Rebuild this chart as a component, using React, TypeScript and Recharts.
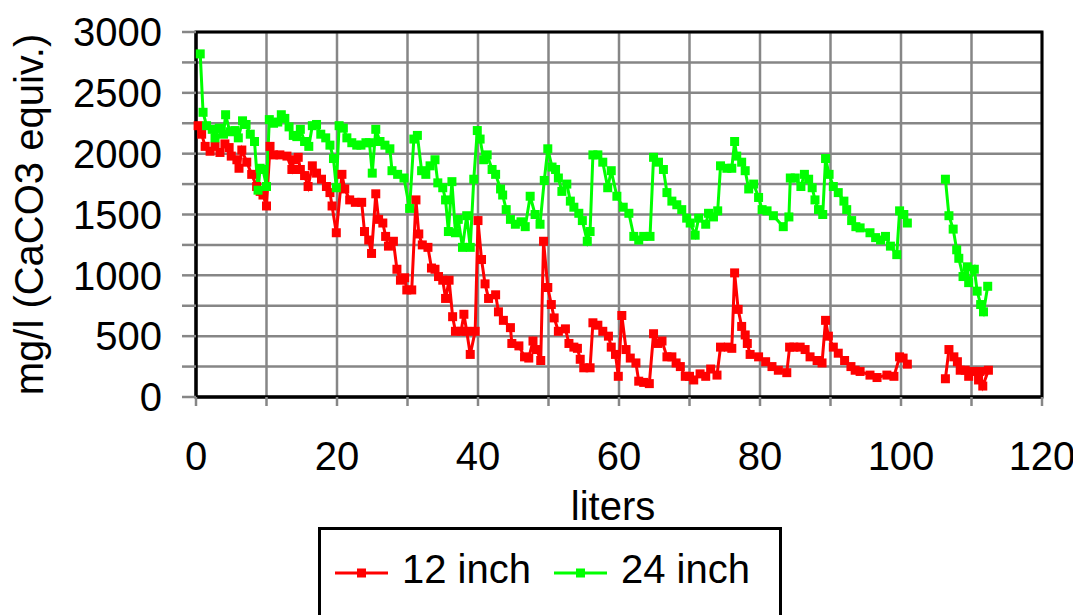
import React from "react";
import { CartesianGrid, Line, LineChart, ReferenceArea, XAxis, YAxis } from "recharts";

// 12 inch column: liters vs mg/l (null = no readings in the gap)
const liters12 = [
  0.3, 0.8, 1.3, 2.0, 2.7, 3.4, 4.1, 4.7, 5.0, 5.8,
  6.1, 6.5, 7.2, 7.9, 8.6, 9.1, 9.5, 10.0, 10.5, 11.0,
  11.9, 12.9, 13.6, 13.9, 14.5, 14.8, 15.4, 15.9, 16.5, 17.1,
  17.8, 18.5, 19.0, 19.3, 19.9, 20.7, 21.1, 21.8, 22.6, 23.5,
  23.9, 24.5, 24.9, 25.5, 25.9, 26.5, 26.9, 27.3, 28.0, 28.5,
  29.0, 29.6, 29.9, 30.6, 31.2, 31.6, 32.1, 32.9, 33.4, 33.9,
  34.4, 35.0, 35.4, 35.9, 36.4, 36.8, 37.6, 38.0, 38.4, 38.9,
  39.6, 40.0, 40.5, 41.0, 41.5, 42.5, 42.9, 43.6, 44.6, 44.8,
  45.8, 46.6, 47.2, 47.8, 48.3, 48.9, 49.3, 49.9, 50.4, 50.8,
  51.4, 52.4, 52.9, 53.6, 54.1, 54.5, 55.0, 55.9, 56.3, 57.0,
  57.7, 58.5, 58.9, 59.5, 59.9, 60.4, 61.0, 61.6, 62.4, 62.8,
  63.5, 64.3, 64.9, 65.5, 66.1, 66.8, 67.5, 68.1, 68.7, 69.4,
  70.0, 70.6, 71.5, 72.3, 73.0, 73.9, 74.4, 75.5, 76.0, 76.4,
  76.9, 77.4, 77.9, 78.2, 78.6, 79.8, 80.8, 81.7, 82.6, 83.8,
  84.2, 84.8, 85.7, 86.4, 87.1, 88.1, 88.8, 89.3, 89.7, 90.4,
  91.1, 92.0, 92.9, 93.5, 94.2, 95.6, 96.6, 98.0, 99.0, 99.8,
  100.3, 100.9, 103.5, 106.3, 106.8, 107.5, 108.0, 108.4, 109.1, 109.6,
  110.2, 111.0, 111.2, 111.6, 112.4,
];
const mg12 = [
  2230, 2160, 2060, 2020, 2060, 2010, 2080, 2050, 1980, 1950,
  1880, 2030, 1930, 1830, 1730, 1690, 1660, 1570, 2060, 1990,
  1990, 1980, 1870, 1950, 1970, 1870, 1820, 1730, 1900, 1840,
  1790, 1730, 1680, 1570, 1350, 1830, 1710, 1620, 1600, 1600,
  1360, 1290, 1180, 1670, 1460, 1430, 1320, 1240, 1280, 1050,
  960, 980, 880, 880, 1620, 1340, 1250, 1230, 1060, 1050,
  990, 960, 810, 960, 660, 540, 540, 680, 540, 350,
  540, 1450, 1130, 930, 810, 840, 700, 630, 570, 440,
  420, 330, 320, 460, 390, 300, 1280, 900, 760, 650,
  540, 560, 440, 410, 400, 310, 240, 240, 610, 590,
  540, 500, 410, 350, 170, 670, 390, 320, 280, 130,
  120, 110, 520, 440, 460, 330, 330, 280, 250, 170,
  170, 140, 190, 170, 230, 180, 410, 410, 400, 1020,
  720, 580, 510, 440, 350, 330, 290, 250, 220, 200,
  410, 410, 410, 390, 330, 300, 280, 630, 500, 410,
  360, 300, 250, 220, 210, 180, 160, 180, 170, 330,
  320, 270, null, 150, 390, 330, 290, 220, 220, 170,
  210, 140, 210, 90, 220,
];

// 24 inch column
const liters24 = [
  0.6, 1.0, 1.5, 2.3, 2.7, 3.3, 3.9, 4.2, 4.8, 5.5,
  6.0, 6.6, 7.1, 7.7, 8.3, 8.8, 9.1, 9.5, 10.0, 10.4,
  11.0, 11.6, 12.1, 12.6, 13.2, 13.8, 14.3, 14.8, 15.4, 16.0,
  16.5, 17.1, 17.7, 18.4, 19.0, 19.5, 19.9, 20.3, 20.9, 21.4,
  22.1, 22.8, 23.4, 24.1, 24.6, 25.0, 25.5, 26.1, 26.8, 27.5,
  27.8, 28.6, 29.5, 30.3, 30.9, 31.4, 32.0, 32.6, 33.2, 33.9,
  34.3, 35.0, 35.4, 35.8, 36.3, 36.8, 37.2, 37.8, 38.4, 38.9,
  39.4, 39.9, 40.3, 40.8, 41.3, 42.0, 42.5, 43.2, 43.5, 44.0,
  44.6, 45.3, 46.1, 46.7, 47.4, 48.1, 48.8, 49.4, 49.9, 50.5,
  51.0, 51.4, 51.9, 52.6, 53.1, 53.6, 54.3, 54.8, 55.5, 55.9,
  56.3, 57.0, 57.7, 58.4, 58.9, 59.7, 60.6, 61.4, 62.1, 62.8,
  63.5, 64.4, 64.9, 65.6, 66.3, 66.8, 67.5, 68.2, 68.9, 69.6,
  70.1, 70.8, 71.3, 72.3, 72.7, 73.4, 74.0, 74.4, 75.3, 76.0,
  76.4, 76.7, 77.4, 77.9, 78.4, 79.1, 79.8, 80.3, 81.0, 81.9,
  83.3, 84.1, 84.3, 85.0, 85.8, 86.3, 86.9, 87.4, 87.8, 88.3,
  88.9, 89.3, 89.8, 90.4, 91.1, 91.9, 92.3, 93.0, 93.6, 94.2,
  95.6, 96.4, 97.1, 97.8, 98.5, 99.4, 99.8, 100.4, 100.9, 103.5,
  106.3, 106.8, 107.4, 107.9, 108.2, 108.8, 109.4, 109.6, 110.4, 110.8,
  111.3, 111.7, 112.3,
];
const mg24 = [
  2820, 2340, 2230, 2200, 2130, 2210, 2160, 2320, 2180, 2190,
  2130, 2270, 2240, 2160, 2100, 1700, 1880, 1870, 1730, 2280,
  2250, 2260, 2320, 2290, 2220, 2150, 2140, 2200, 2100, 2060,
  2230, 2240, 2160, 2130, 2070, 1960, 1720, 2230, 2210, 2130,
  2090, 2070, 2070, 2090, 2090, 1840, 2200, 2100, 2070, 2040,
  1860, 1830, 1800, 1550, 2120, 2150, 1860, 1830, 1900, 1950,
  1760, 1720, 1620, 1360, 1770, 1350, 1460, 1230, 1490, 1230,
  1790, 2190, 2120, 1950, 1990, 1870, 1830, 1710, 1660, 1540,
  1460, 1420, 1440, 1400, 1650, 1500, 1420, 1780, 2040, 1890,
  1870, 1800, 1690, 1750, 1610, 1560, 1510, 1450, 1280, 1360,
  1990, 1990, 1930, 1720, 1860, 1650, 1560, 1510, 1320, 1290,
  1320, 1320, 1970, 1930, 1870, 1680, 1610, 1580, 1540, 1470,
  1430, 1330, 1470, 1420, 1510, 1480, 1530, 1900, 1880, 1880,
  2100, 1980, 1930, 1860, 1710, 1750, 1640, 1540, 1530, 1490,
  1400, 1480, 1800, 1800, 1730, 1830, 1790, 1720, 1620, 1540,
  1500, 1960, 1830, 1730, 1680, 1610, 1540, 1450, 1400, 1390,
  1350, 1310, 1290, 1320, 1240, 1170, 1530, 1500, 1430, null,
  1790, 1490, 1380, 1210, 1140, 990, 1070, 940, 1050, 870,
  760, 700, 910,
];

const xTicks = [0, 10, 20, 30, 40, 50, 60, 70, 80, 90, 100, 110, 120];
const yTicks = [0, 250, 500, 750, 1000, 1250, 1500, 1750, 2000, 2250, 2500, 2750, 3000];

const RED = "#ff0000";
const GREEN = "#00ff00";
const GRID = "#868686";
const FONT = "'Liberation Sans', Arial, sans-serif";

const toPoints = (xs: number[], ys: (number | null)[]) => xs.map((x, i) => ({ x, y: ys[i] }));
const data12 = toPoints(liters12, mg12);
const data24 = toPoints(liters24, mg24);

const squareDot = (color: string) => (props: any) => {
  const { cx, cy, index, value } = props;
  if (cx == null || cy == null || value == null || Number.isNaN(cy)) return <g key={`d${index}`} />;
  return <rect key={`d${index}`} x={cx - 4.5} y={cy - 4.5} width={9} height={9} fill={color} />;
};

function YLabel(props: any) {
  const vb = props.viewBox || { x: 0, y: 32, width: 196, height: 365 };
  const cy = vb.y + vb.height / 2;
  return (
    <text x={43} y={cy} transform={`rotate(-90 43 ${cy})`} textAnchor="middle" fontSize={40} fontFamily={FONT} fill="#000">
      mg/l (CaCO3 equiv.)
    </text>
  );
}

function XLabel(props: any) {
  const vb = props.viewBox || { x: 196, y: 397, width: 845, height: 100 };
  return (
    <text x={vb.x + vb.width / 2 - 6} y={vb.y + 123} textAnchor="middle" fontSize={40} fontFamily={FONT} fill="#000">
      liters
    </text>
  );
}

function LegendItem({ color, label, gap }: { color: string; label: string; gap: number }) {
  return (
    <div style={{ display: "flex", alignItems: "flex-start", marginLeft: gap }}>
      <svg width={53} height={46}>
        <line x1={0} x2={53} y1={27} y2={27} stroke={color} strokeWidth={3} />
        <rect x={22} y={22.5} width={9} height={9} fill={color} />
      </svg>
      <span style={{ marginLeft: 14, fontSize: 40, lineHeight: "46px", fontFamily: FONT, color: "#000" }}>{label}</span>
    </div>
  );
}

export default function App() {
  return (
    <div style={{ position: "fixed", left: 0, top: 0, width: 1073, height: 615, overflow: "hidden", background: "#fff" }}>
      <LineChart width={1073} height={615} margin={{ top: 32, right: 31, bottom: 118, left: 0 }}>
        <CartesianGrid stroke={GRID} strokeWidth={2.5} />
        <XAxis
          type="number"
          dataKey="x"
          domain={[0, 120]}
          ticks={xTicks}
          interval={0}
          height={100}
          tickFormatter={(v: number) => (v % 20 === 0 ? String(v) : "")}
          tick={{ fontSize: 40, fontFamily: FONT, fill: "#000" }}
          tickSize={9}
          tickMargin={36}
          tickLine={{ stroke: GRID, strokeWidth: 2.5 }}
          axisLine={{ stroke: "#000", strokeWidth: 3 }}
          label={<XLabel />}
        />
        <YAxis
          type="number"
          domain={[0, 3000]}
          ticks={yTicks}
          interval={0}
          width={196}
          tickFormatter={(v: number) => (v % 500 === 0 ? String(v) : "")}
          tick={{ fontSize: 40, fontFamily: FONT, fill: "#000" }}
          tickSize={14}
          tickMargin={20}
          tickLine={{ stroke: GRID, strokeWidth: 2.5 }}
          axisLine={{ stroke: "#000", strokeWidth: 3 }}
          label={<YLabel />}
        />
        <ReferenceArea x1={0} x2={120} y1={0} y2={3000} fill="none" stroke="#000" strokeWidth={3} ifOverflow="visible" />
        <Line
          data={data12}
          dataKey="y"
          type="linear"
          stroke={RED}
          strokeWidth={3}
          dot={squareDot(RED)}
          activeDot={false}
          connectNulls={false}
          isAnimationActive={false}
        />
        <Line
          data={data24}
          dataKey="y"
          type="linear"
          stroke={GREEN}
          strokeWidth={3}
          dot={squareDot(GREEN)}
          activeDot={false}
          connectNulls={false}
          isAnimationActive={false}
        />
      </LineChart>
      <div
        style={{
          position: "absolute",
          left: 318,
          top: 527,
          width: 464,
          height: 100,
          boxSizing: "border-box",
          border: "3px solid #000",
          borderBottom: "none",
          background: "#fff",
          display: "flex",
          alignItems: "flex-start",
          paddingTop: 16,
        }}
      >
        <LegendItem color={RED} label="12 inch" gap={14} />
        <LegendItem color={GREEN} label="24 inch" gap={23} />
      </div>
    </div>
  );
}
